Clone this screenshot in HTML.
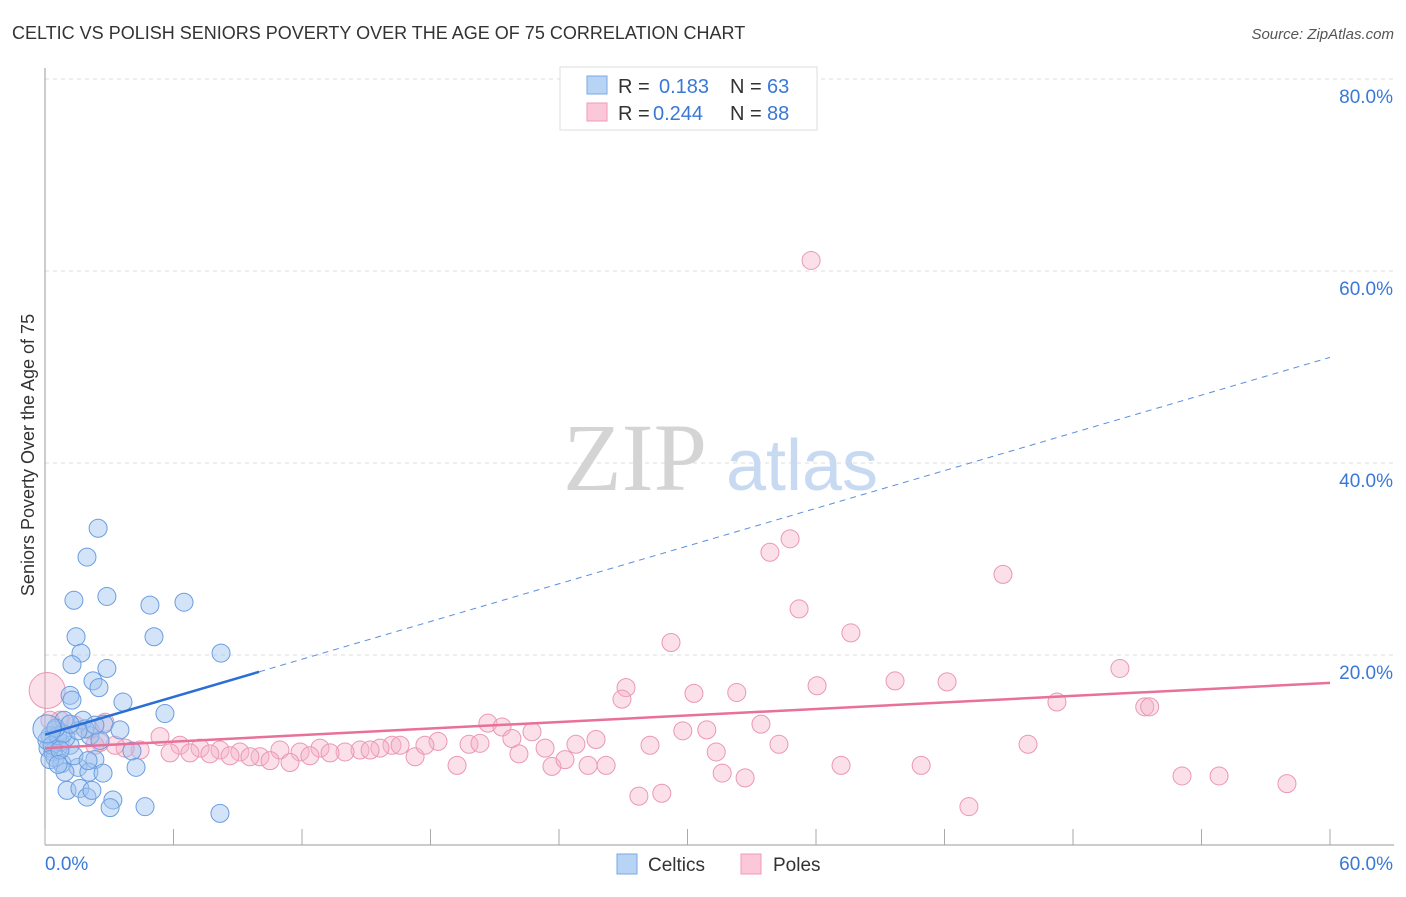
<!DOCTYPE html>
<html><head><meta charset="utf-8"><style>
body{margin:0;background:#fff;font-family:"Liberation Sans",sans-serif;}
svg text{font-family:"Liberation Sans",sans-serif;}
</style></head><body>
<svg id="chart" width="1406" height="892" xmlns="http://www.w3.org/2000/svg">
<text x="12" y="39" font-size="18" fill="#333">CELTIC VS POLISH SENIORS POVERTY OVER THE AGE OF 75 CORRELATION CHART</text>
<text x="1394" y="39" font-size="15" fill="#555" font-style="italic" text-anchor="end">Source: ZipAtlas.com</text>
<g id="grid"></g>
<text x="635" y="490" font-size="96" fill="#d4d4d4" font-family="Liberation Serif" text-anchor="middle" style="font-family:'Liberation Serif',serif">ZIP</text>
<text x="802" y="490" font-size="72" fill="#c8daf2" text-anchor="middle">atlas</text>
<text transform="translate(34,455) rotate(-90)" font-size="18" fill="#333" text-anchor="middle">Seniors Poverty Over the Age of 75</text>
<g id="marks"></g>
<g>
<rect x="560" y="67" width="257" height="63" fill="#fff" stroke="#ddd"/>
<rect x="587" y="76" width="20" height="18" fill="#b8d4f5" stroke="#7aa8e8"/>
<rect x="587" y="103" width="20" height="18" fill="#fac8d8" stroke="#f09ab5"/>
<text x="618" y="93" font-size="20" fill="#333">R =</text><text x="659" y="93" font-size="20" fill="#3a78d8">0.183</text>
<text x="730" y="93" font-size="20" fill="#333">N =</text><text x="767" y="93" font-size="20" fill="#3a78d8">63</text>
<text x="618" y="120" font-size="20" fill="#333">R =</text><text x="653" y="120" font-size="20" fill="#3a78d8">0.244</text>
<text x="730" y="120" font-size="20" fill="#333">N =</text><text x="767" y="120" font-size="20" fill="#3a78d8">88</text>
</g>
<g>
<rect x="617" y="854" width="20" height="20" fill="#b8d4f5" stroke="#7aa8e8"/>
<text x="648" y="871" font-size="19" fill="#333">Celtics</text>
<rect x="741" y="854" width="20" height="20" fill="#fac8d8" stroke="#f09ab5"/>
<text x="773" y="871" font-size="19" fill="#333">Poles</text>
</g>
</svg>
<script>
const yTicks=[20,40,60,80];
const yTickLabels=["20.0%","40.0%","60.0%","80.0%"];
const xTicks=[0,6,12,18,24,30,36,42,48,54,60];
const celticsX=[2.48,1.96,1.35,2.89,4.90,6.49,1.45,5.09,1.68,8.22,1.26,2.89,2.24,2.52,1.17,1.26,3.64,5.60,2.75,1.77,0.89,0.47,0.23,0.70,0.14,0.37,1.17,2.10,2.57,4.06,0.47,0.79,1.54,2.33,2.05,2.71,4.25,0.93,1.03,1.63,1.96,2.19,3.17,3.04,4.67,8.17,0.09,0.33,0.61,0.98,1.87,1.35,0.23,0.84,3.50,0.51,0.09,1.54,2.33,0.70,0.61,1.17,2.01];
const celticsY=[33.2,30.2,25.7,26.1,25.2,25.5,21.9,21.9,20.2,20.2,19.0,18.6,17.3,16.6,15.8,15.3,15.1,13.9,12.8,13.2,13.2,12.2,11.6,10.9,10.3,9.9,10.6,11.6,11.1,10.0,9.3,8.7,8.3,9.1,7.8,7.7,8.3,7.8,5.9,6.1,5.2,5.9,4.9,4.1,4.2,3.5,11.1,10.6,11.6,11.4,12.3,9.5,9.1,11.8,12.2,12.4,12.3,12.1,12.7,10.1,8.6,12.8,9.0];
const polesX=[35.77,34.79,33.85,44.73,35.21,37.63,29.23,50.19,27.13,30.30,32.30,39.69,42.12,36.05,26.94,47.25,51.35,51.58,20.68,21.34,22.74,29.78,30.90,33.43,34.27,45.90,28.25,31.34,23.35,24.79,25.73,18.35,19.80,20.31,21.80,22.13,17.28,16.20,15.64,14.71,14.01,12.84,11.91,10.97,10.04,9.10,8.17,7.24,6.30,5.37,4.44,3.74,3.27,2.57,2.10,1.40,0.70,0.23,5.84,6.77,7.70,8.64,9.57,10.51,11.44,12.37,13.31,15.18,16.58,17.74,19.24,23.67,24.28,25.36,26.20,31.62,32.69,37.17,40.91,53.09,54.82,57.99,27.73,28.80,43.14,2.33,2.80,0.10];
const polesY=[61.1,32.1,30.7,28.4,24.8,22.3,21.3,18.6,16.6,16.0,16.1,17.3,17.2,16.8,15.4,15.1,14.6,14.6,12.9,12.5,12.0,12.1,12.2,12.8,10.7,10.7,10.6,9.9,10.3,10.7,11.2,11.0,10.7,10.8,11.3,9.7,9.4,10.6,10.3,10.1,9.9,10.3,9.9,10.1,9.4,9.9,10.1,10.3,10.6,11.5,10.1,10.3,10.6,10.9,12.2,12.7,13.2,13.2,9.8,9.8,9.7,9.5,9.4,9.0,8.8,9.5,9.8,10.1,10.6,10.6,8.5,8.4,9.1,8.5,8.5,7.7,7.2,8.5,8.5,7.4,7.4,6.6,5.3,5.6,4.2,10.6,13.0,16.3];
const celticsTrend=[11.7,51.0];
const polesTrend=[10.3,17.1];
const X0=45,X1=1330,Y0=847,PXY=9.6;
const sx=v=>X0+(v/60)*(X1-X0);
const sy=v=>Y0-v*PXY;
const NS="http://www.w3.org/2000/svg";
const grid=document.getElementById('grid'),marks=document.getElementById('marks');
function mk(tag,attrs,parent){const e=document.createElementNS(NS,tag);for(const k in attrs)e.setAttribute(k,attrs[k]);parent.appendChild(e);return e;}
yTicks.forEach((t,i)=>{
 const l=mk('line',{x1:X0,x2:1394,y1:sy(t),y2:sy(t),stroke:'#ddd','stroke-dasharray':'4,4'},grid);
 
 
 const tx=mk('text',{x:1393,y:sy(t)+24,'font-size':19,fill:'#3a78d8','text-anchor':'end'},grid);
 tx.textContent=yTickLabels[i];
 
 
});
const ax=mk('line',{x1:X0,x2:1394,y1:845,y2:845,stroke:'#999'},grid);


const ay=mk('line',{x1:X0,x2:X0,y1:68,y2:845,stroke:'#999'},grid);


xTicks.forEach(t=>{
 const l=mk('line',{x1:sx(t),x2:sx(t),y1:829,y2:845,stroke:'#aaa'},grid);
 
 
});
const xl0=mk('text',{x:45,y:870,'font-size':19,fill:'#3a78d8'},grid);xl0.textContent='0.0%';


const xl1=mk('text',{x:1393,y:870,'font-size':19,fill:'#3a78d8','text-anchor':'end'},grid);xl1.textContent='60.0%';


polesX.forEach((x,i)=>{
 const c=mk('circle',{cx:sx(x),cy:sy(polesY[i]),r:i===polesX.length-1?18:9,fill:'rgba(246,178,200,0.4)',stroke:'#eb98b2','stroke-width':1},marks);
 
 
});
celticsX.forEach((x,i)=>{
 const c=mk('circle',{cx:sx(x),cy:sy(celticsY[i]),r:i===56?14:9,fill:'rgba(160,196,240,0.45)',stroke:'#6a9de0','stroke-width':1},marks);
 
 
});
const cy=x=>celticsTrend[0]+(celticsTrend[1]-celticsTrend[0])*x/60;
const t1=mk('line',{x1:sx(0),y1:sy(cy(0)),x2:sx(10),y2:sy(cy(10)),stroke:'#2a6fd6','stroke-width':2.5},marks);


const t2=mk('line',{x1:sx(10),y1:sy(cy(10)),x2:sx(60),y2:sy(cy(60)),stroke:'#5a8fdc','stroke-width':1,'stroke-dasharray':'6,5'},marks);


const t3=mk('line',{x1:sx(0),y1:sy(polesTrend[0]),x2:sx(60),y2:sy(polesTrend[1]),stroke:'#e8709a','stroke-width':2.5},marks);


</script>
</body></html>
